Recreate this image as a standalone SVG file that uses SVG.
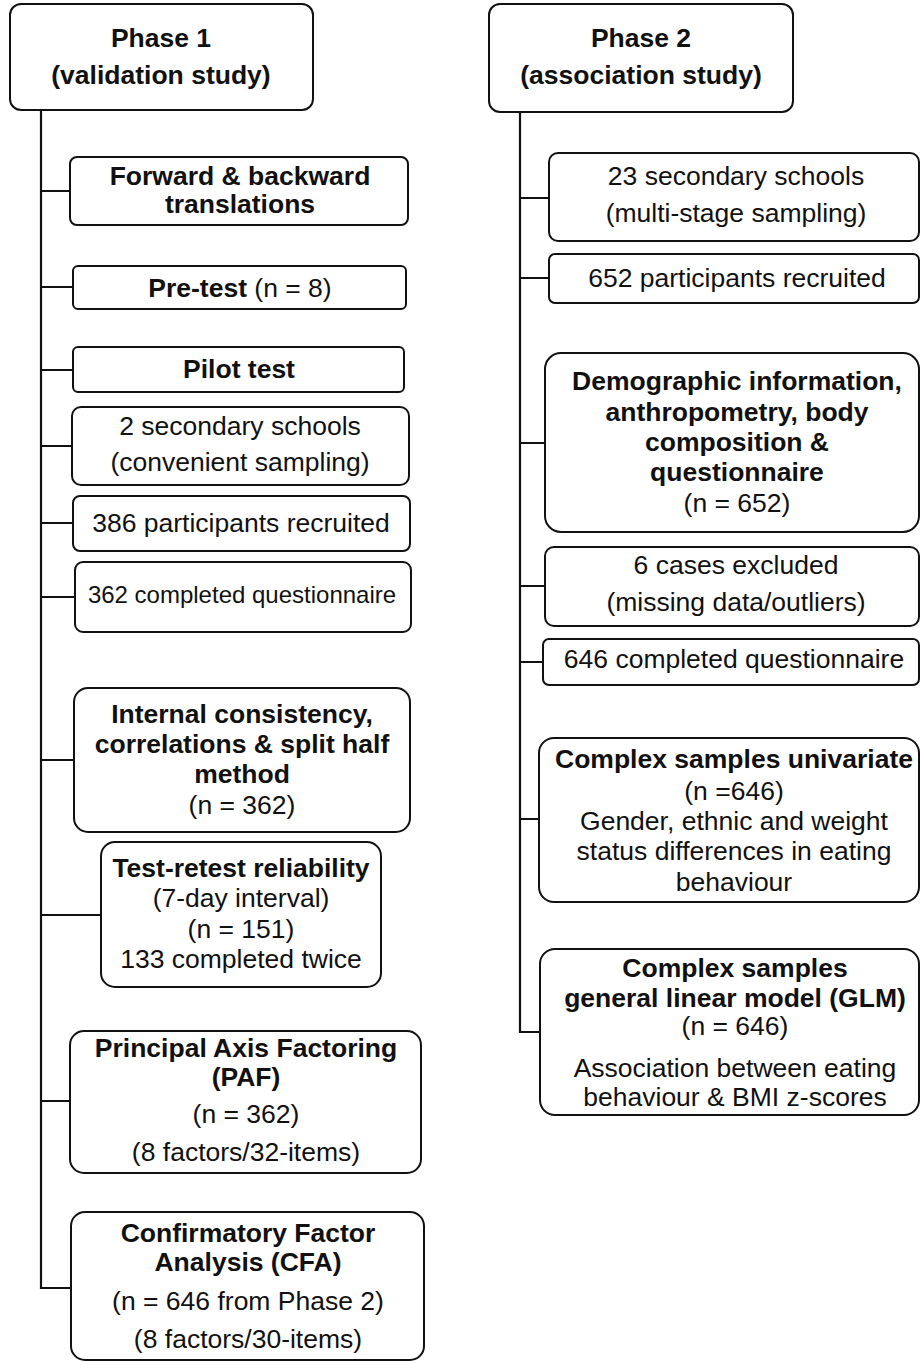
<svg xmlns="http://www.w3.org/2000/svg" width="920" height="1362" viewBox="0 0 920 1362">
<style>
.box{fill:#fff;stroke:#111;stroke-width:2}
.ln{fill:none;stroke:#111;stroke-width:2.2}
text{font-family:"Liberation Sans",Arial,sans-serif;font-size:26.5px;fill:#111;text-anchor:middle}
.b{font-weight:bold}
.s{font-size:24px}
</style>
<rect width="920" height="1362" fill="#fff"/>
<g id="connectors">
<path class="ln" d="M41,110 V1288 H71"/>
<path class="ln" d="M41,191 H70 M41,287 H73 M41,370 H73 M41,446 H72 M41,523 H73 M41,597 H75 M41,760 H74 M41,915 H101 M41,1101 H70"/>
<path class="ln" d="M520,112 V1032 H540"/>
<path class="ln" d="M520,198 H549 M520,278 H549 M520,443 H545 M520,586 H545 M520,662 H543 M520,819 H539"/>
</g>
<g id="phase1">
<rect class="box" x="10" y="4" width="303" height="106" rx="11"/>
<text class="b" x="161" y="47">Phase 1</text>
<text class="b" x="161" y="84">(validation study)</text>
</g>
<g id="forward">
<rect class="box" x="70" y="157" width="338" height="68" rx="7"/>
<text class="b" x="240" y="185">Forward &amp; backward</text>
<text class="b" x="240" y="213">translations</text>
</g>
<g id="pretest">
<rect class="box" x="73" y="266" width="333" height="43" rx="5"/>
<text x="240" y="297"><tspan class="b">Pre-test</tspan> (n = 8)</text>
</g>
<g id="pilot">
<rect class="box" x="73" y="347" width="331" height="45" rx="5"/>
<text class="b" x="239" y="378">Pilot test</text>
</g>
<g id="schools2">
<rect class="box" x="72" y="407" width="337" height="78" rx="9"/>
<text x="240" y="435">2 secondary schools</text>
<text x="240" y="471">(convenient sampling)</text>
</g>
<g id="recruited386">
<rect class="box" x="73" y="496" width="337" height="55" rx="7"/>
<text x="241" y="532">386 participants recruited</text>
</g>
<g id="completed362">
<rect class="box" x="75" y="562" width="336" height="70" rx="8"/>
<text class="s" x="242" y="603">362 completed questionnaire</text>
</g>
<g id="internal">
<rect class="box" x="74" y="688" width="336" height="144" rx="14"/>
<text class="b" x="242" y="723">Internal consistency,</text>
<text class="b" x="242" y="753">correlations &amp; split half</text>
<text class="b" x="242" y="783">method</text>
<text x="242" y="814">(n = 362)</text>
</g>
<g id="testretest">
<rect class="box" x="101" y="842" width="280" height="145" rx="14"/>
<text class="b" x="241" y="877">Test-retest reliability</text>
<text x="241" y="907">(7-day interval)</text>
<text x="241" y="938">(n = 151)</text>
<text x="241" y="968">133 completed twice</text>
</g>
<g id="paf">
<rect class="box" x="70" y="1031" width="351" height="142" rx="14"/>
<text class="b" x="246" y="1057">Principal Axis Factoring</text>
<text class="b" x="246" y="1086">(PAF)</text>
<text x="246" y="1123">(n = 362)</text>
<text x="246" y="1161">(8 factors/32-items)</text>
</g>
<g id="cfa">
<rect class="box" x="71" y="1212" width="353" height="148" rx="14"/>
<text class="b" x="248" y="1242">Confirmatory Factor</text>
<text class="b" x="248" y="1271">Analysis (CFA)</text>
<text x="248" y="1310">(n = 646 from Phase 2)</text>
<text x="248" y="1348">(8 factors/30-items)</text>
</g>
<g id="phase2">
<rect class="box" x="489" y="4" width="304" height="108" rx="11"/>
<text class="b" x="641" y="47">Phase 2</text>
<text class="b" x="641" y="84">(association study)</text>
</g>
<g id="schools23">
<rect class="box" x="549" y="153" width="370" height="88" rx="9"/>
<text x="736" y="185">23 secondary schools</text>
<text x="736" y="222">(multi-stage sampling)</text>
</g>
<g id="recruited652">
<rect class="box" x="549" y="254" width="370" height="49" rx="6"/>
<text x="737" y="287">652 participants recruited</text>
</g>
<g id="demographic">
<rect class="box" x="545" y="353" width="374" height="179" rx="16"/>
<text class="b" x="737" y="390">Demographic information,</text>
<text class="b" x="737" y="421">anthropometry, body</text>
<text class="b" x="737" y="451">composition &amp;</text>
<text class="b" x="737" y="481">questionnaire</text>
<text x="737" y="512">(n = 652)</text>
</g>
<g id="excluded">
<rect class="box" x="545" y="547" width="374" height="79" rx="9"/>
<text x="736" y="574">6 cases excluded</text>
<text x="736" y="611">(missing data/outliers)</text>
</g>
<g id="completed646">
<rect class="box" x="543" y="639" width="376" height="46" rx="6"/>
<text x="734" y="668">646 completed questionnaire</text>
</g>
<g id="univariate">
<rect class="box" x="539" y="738" width="380" height="164" rx="15"/>
<text class="b" x="734" y="768">Complex samples univariate</text>
<text x="734" y="800">(n =646)</text>
<text x="734" y="830">Gender, ethnic and weight</text>
<text x="734" y="860">status differences in eating</text>
<text x="734" y="891">behaviour</text>
</g>
<g id="glm">
<rect class="box" x="540" y="949" width="379" height="166" rx="15"/>
<text class="b" x="735" y="977">Complex samples</text>
<text class="b" x="735" y="1007">general linear model (GLM)</text>
<text x="735" y="1035">(n = 646)</text>
<text x="735" y="1077">Association between eating</text>
<text x="735" y="1106">behaviour &amp; BMI z-scores</text>
</g>
</svg>
